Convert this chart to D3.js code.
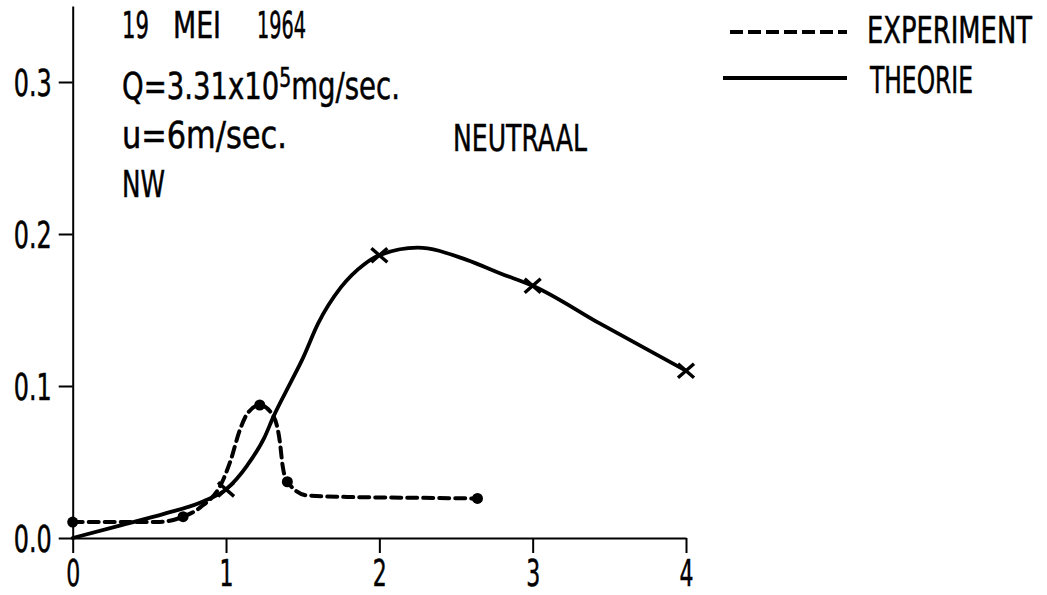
<!DOCTYPE html>
<html>
<head>
<meta charset="utf-8">
<script src="https://cdn.jsdelivr.net/npm/d3@7"></script>
<style>
  html, body { margin: 0; padding: 0; background: #fff; }
  svg { display: block; }
  text { font-family: "Liberation Sans Narrow", "DejaVu Sans Condensed", "Liberation Sans", sans-serif; fill: #000; stroke: #000; stroke-width: 0.5px; }
</style>
</head>
<body>
<svg id="chart" width="1047" height="595"></svg>
<script>
// ---- data ----
const xTicks = [0, 1, 2, 3, 4];
const yTicks = [0.0, 0.1, 0.2, 0.3];

// THEORIE curve
const theoryX = [0, 0.3, 0.6, 0.85, 1.0, 1.14, 1.25, 1.31, 1.42, 1.5, 1.6, 1.75, 1.9, 2.0, 2.25, 2.57, 2.79, 3.0, 3.44, 4.0];
const theoryY = [0.0, 0.008, 0.016, 0.024, 0.032, 0.048, 0.066, 0.080, 0.102, 0.118, 0.141, 0.165, 0.180, 0.186, 0.191, 0.183, 0.174, 0.166, 0.141, 0.110];
// THEORIE marked points (crosses)
const theoryMarkX = [1, 2, 3, 4];
const theoryMarkY = [0.032, 0.186, 0.166, 0.110];

// EXPERIMENT curve
const expX = [0, 0.3, 0.55, 0.72, 0.83, 0.98, 1.03, 1.09, 1.14, 1.22, 1.31, 1.35, 1.37, 1.40, 1.53, 1.79, 2.2, 2.64];
const expY = [0.0105, 0.0105, 0.0105, 0.014, 0.020, 0.038, 0.051, 0.071, 0.082, 0.0875, 0.080, 0.064, 0.047, 0.037, 0.028, 0.027, 0.0265, 0.026];
// EXPERIMENT measured points (dots)
const expMarkX = [0, 0.72, 1.22, 1.40, 2.64];
const expMarkY = [0.0105, 0.014, 0.0875, 0.037, 0.026];

const legendLabels = ["EXPERIMENT", "THEORIE"];

// ---- chart ----
const svg = d3.select("#chart");
const x = d3.scaleLinear().domain([0, 4]).range([72.7, 686]);
const y = d3.scaleLinear().domain([0, 0.35]).range([538, 6]);

const FS = 38;

// squeeze a text horizontally to a given width, anchored at (px, py)
function squeeze(sel, px, py, width) {
  const w = sel.node().getComputedTextLength();
  sel.attr("x", 0).attr("y", 0)
     .attr("transform", `translate(${px},${py}) scale(${width / w},1)`);
}

// axes
const yAxis = d3.axisLeft(y).tickValues(yTicks).tickFormat(d3.format(".1f")).tickSize(14).tickSizeOuter(0).tickPadding(7);
const gy = svg.append("g").attr("transform", `translate(${x(0)},0)`).call(yAxis);
gy.select(".domain").attr("stroke", "#000").attr("stroke-width", 2);
gy.selectAll(".tick line").attr("stroke", "#000").attr("stroke-width", 2);
gy.selectAll(".tick text")
  .attr("font-size", FS).attr("font-family", null)
  .each(function () {
    const t = d3.select(this);
    squeeze(t, -21, 0, 38);
    t.attr("dy", "0.36em");
  });

const xAxis = d3.axisBottom(x).tickValues(xTicks).tickFormat(d3.format("d")).tickSize(15).tickSizeOuter(0);
const gx = svg.append("g").attr("transform", `translate(0,${y(0)})`).call(xAxis);
gx.select(".domain").attr("stroke", "#000").attr("stroke-width", 2);
gx.selectAll(".tick line").attr("stroke", "#000").attr("stroke-width", 2);
gx.selectAll(".tick text")
  .attr("font-size", FS).attr("font-family", null)
  .each(function () {
    const t = d3.select(this);
    squeeze(t, 0, 48, 14);
    t.attr("dy", 0);
  });

// curves
const line = d3.line().x(d => x(d[0])).y(d => y(d[1])).curve(d3.curveMonotoneX);
const theoryData = theoryX.map((v, i) => [v, theoryY[i]]);
const expData = expX.map((v, i) => [v, expY[i]]);

svg.append("path").datum(theoryData).attr("d", line)
  .attr("fill", "none").attr("stroke", "#000").attr("stroke-width", 3.8)
  .attr("stroke-linejoin", "round").attr("stroke-linecap", "round");

svg.append("path").datum(expData).attr("d", line)
  .attr("fill", "none").attr("stroke", "#000").attr("stroke-width", 4)
  .attr("stroke-dasharray", "10,6").attr("stroke-linecap", "round");

// markers
svg.append("g").selectAll("path").data(theoryMarkX.map((v, i) => [v, theoryMarkY[i]])).join("path")
  .attr("transform", d => `translate(${x(d[0])},${y(d[1])})`)
  .attr("d", "M-8,-7L8,7M-8,7L8,-7")
  .attr("stroke", "#000").attr("stroke-width", 3.4).attr("fill", "none");

svg.append("g").selectAll("circle").data(expMarkX.map((v, i) => [v, expMarkY[i]])).join("circle")
  .attr("cx", d => x(d[0])).attr("cy", d => y(d[1])).attr("r", 5.5).attr("fill", "#000");

// annotations
function label(txt, px, py, width, fs) {
  const t = svg.append("text").attr("font-size", fs || FS).text(txt);
  squeeze(t, px, py, width);
  return t;
}
label("19", 122, 38, 27);
label("MEI", 173, 38, 48);
label("1964", 257, 38, 49);

const q = svg.append("text").attr("font-size", FS);
q.append("tspan").text("Q=3.31x10");
q.append("tspan").attr("font-size", 26).attr("dy", -12).text("5");
q.append("tspan").attr("dy", 12).text("mg/sec.");
squeeze(q, 122, 99, 278);

label("u=6m/sec.", 122, 148, 165);
label("NW", 122, 197, 43);
label("NEUTRAAL", 453, 151, 134);

// legend
svg.append("line").attr("x1", 730).attr("x2", 847).attr("y1", 32).attr("y2", 32)
  .attr("stroke", "#000").attr("stroke-width", 4).attr("stroke-dasharray", "13,5");
svg.append("line").attr("x1", 723).attr("x2", 847).attr("y1", 78).attr("y2", 78)
  .attr("stroke", "#000").attr("stroke-width", 4);
label(legendLabels[0], 867, 43, 165);
label(legendLabels[1], 870, 93, 103);
</script>
</body>
</html>
